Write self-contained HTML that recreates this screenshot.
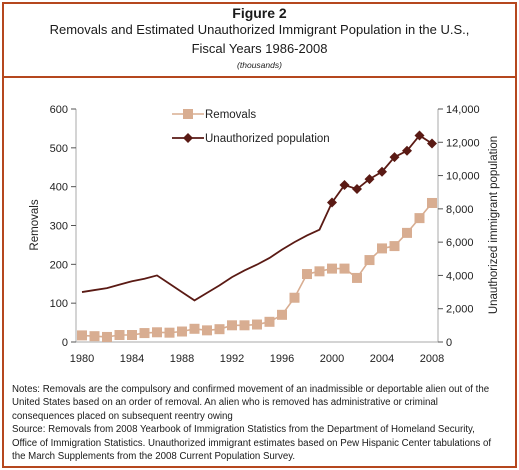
<!DOCTYPE html>
<html><head><meta charset="utf-8"><style>
body{margin:0;background:#fff;}
#wrap{position:relative;width:519px;height:470px;font-family:"Liberation Sans",sans-serif;color:#1a1a1a;}
.frame{position:absolute;left:2px;top:2px;width:511px;height:462px;border:2px solid #b5471e;}
.sep{position:absolute;left:2px;top:76px;width:515px;height:2px;background:#b5471e;}
.t{position:absolute;left:0;width:519px;text-align:center;}
.notes{position:absolute;left:12px;top:383px;width:505px;font-size:9.7px;line-height:13.4px;white-space:nowrap;}
</style></head><body>
<div id="wrap">
<div class="frame"></div>
<div class="sep"></div>
<div class="t" style="top:5px;font-size:14px;font-weight:bold">Figure 2</div>
<div class="t" style="top:22px;font-size:13px">Removals and Estimated Unauthorized Immigrant Population in the U.S.,</div>
<div class="t" style="top:41px;font-size:13px">Fiscal Years 1986-2008</div>
<div class="t" style="top:60px;font-size:8.5px;font-style:italic">(thousands)</div>
<svg id="chart" width="519" height="470" style="position:absolute;left:0;top:0"></svg>
<div class="notes">Notes: Removals are the compulsory and confirmed movement of an inadmissible or deportable alien out of the<br>United States based on an order of removal. An alien who is removed has administrative or criminal<br>consequences placed on subsequent reentry owing<br>Source: Removals from 2008 Yearbook of Immigration Statistics from the Department of Homeland Security,<br>Office of Immigration Statistics. Unauthorized immigrant estimates based on Pew Hispanic Center tabulations of<br>the March Supplements from the 2008 Current Population Survey.</div>
</div>
<script>
const years=[1980,1981,1982,1983,1984,1985,1986,1987,1988,1989,1990,1991,1992,1993,1994,1995,1996,1997,1998,1999,2000,2001,2002,2003,2004,2005,2006,2007,2008];
const removals=[17,15,13,18,18,23,25,24,27,34,30,33,43,43,45,52,70,114,175,182,189,189,165,211,241,247,281,319,358];
const population=[3000,3120,3240,3450,3650,3800,4000,3500,3000,2500,2950,3400,3900,4300,4650,5050,5550,6000,6400,6750,8380,9430,9190,9790,10230,11110,11490,12410,11930];
const leftTicks=[0,100,200,300,400,500,600];
const rightTicks=[0,2000,4000,6000,8000,10000,12000,14000];
const xTicks=[1980,1984,1988,1992,1996,2000,2004,2008];
const markerStart=2000;

const NS="http://www.w3.org/2000/svg";
const svg=document.getElementById('chart');
const X=y=>82+(y-1980)*12.5;
const YL=v=>342-v*(233/600);
const YR=v=>342-v*(233/14000);
function mk(tag,attrs,parent){const e=document.createElementNS(NS,tag);for(const k in attrs)e.setAttribute(k,attrs[k]);(parent||svg).appendChild(e);return e;}
let ax=mk('line',{x1:76,y1:109,x2:76,y2:342,stroke:'#aaa','stroke-width':1});

ax=mk('line',{x1:438,y1:109,x2:438,y2:342,stroke:'#aaa','stroke-width':1});

ax=mk('line',{x1:76,y1:342,x2:438,y2:342,stroke:'#aaa','stroke-width':1});

leftTicks.forEach(v=>{const y=YL(v);
 mk('line',{x1:71,y1:y,x2:76,y2:y,stroke:'#555'});
 const t=mk('text',{x:68,y:y+4,'text-anchor':'end','font-size':11,fill:'#222'});t.textContent=v;
 });
rightTicks.forEach(v=>{const y=YR(v);
 mk('line',{x1:438,y1:y,x2:443,y2:y,stroke:'#555'});
 const t=mk('text',{x:446,y:y+4,'font-size':11,fill:'#222'});t.textContent=v.toLocaleString('en-US');
 });
xTicks.forEach(v=>{const t=mk('text',{x:X(v),y:362,'text-anchor':'middle','font-size':11,fill:'#222'});t.textContent=v;
 });
let tt=mk('text',{transform:'translate(38,225) rotate(-90)','text-anchor':'middle','font-size':11.5,fill:'#222'});tt.textContent='Removals';

tt=mk('text',{transform:'translate(497,225) rotate(-90)','text-anchor':'middle','font-size':11.5,fill:'#222'});tt.textContent='Unauthorized immigrant population';

let p=mk('polyline',{points:years.map((y,i)=>X(y)+','+YL(removals[i])).join(' '),fill:'none',stroke:'#d8ad91','stroke-width':1.6});

years.forEach((y,i)=>{const r=mk('rect',{x:X(y)-5,y:YL(removals[i])-5,width:10,height:10,fill:'#d8ad91'});
 });
p=mk('polyline',{points:years.map((y,i)=>X(y)+','+YR(population[i])).join(' '),fill:'none',stroke:'#5a1a14','stroke-width':1.8});

years.forEach((y,i)=>{if(y<markerStart)return;const cx=X(y),cy=YR(population[i]);
 const d=mk('polygon',{points:`${cx},${cy-5} ${cx+5},${cy} ${cx},${cy+5} ${cx-5},${cy}`,fill:'#5a1a14'});
 });
const lg=mk('g',{});
mk('line',{x1:172,y1:114,x2:204,y2:114,stroke:'#d8ad91','stroke-width':1.6},lg);
mk('rect',{x:183,y:109,width:10,height:10,fill:'#d8ad91'},lg);
let lt=mk('text',{x:205,y:118,'font-size':11.5,fill:'#222'},lg);lt.textContent='Removals';

mk('line',{x1:172,y1:138,x2:204,y2:138,stroke:'#5a1a14','stroke-width':1.8},lg);
mk('polygon',{points:'188,133 193,138 188,143 183,138',fill:'#5a1a14'},lg);
lt=mk('text',{x:205,y:142,'font-size':11.5,fill:'#222'},lg);lt.textContent='Unauthorized population';

</script>
</body></html>
